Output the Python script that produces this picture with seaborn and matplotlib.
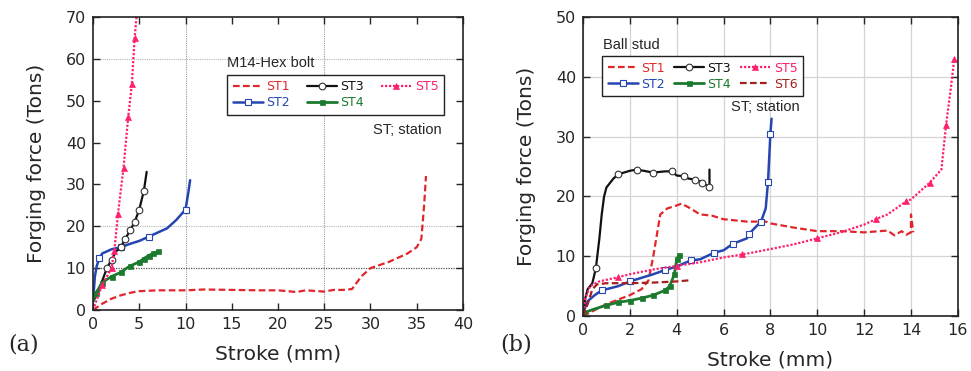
import numpy as np
import pandas as pd
import matplotlib
matplotlib.use("Agg")
import matplotlib.pyplot as plt
from matplotlib.lines import Line2D
import seaborn as sns

# ---------------- Data: panel (a) M14-Hex bolt ----------------
a_st1_x = [0, 1, 2, 3, 4, 5, 7, 10, 12, 15, 18, 20, 22, 23, 25, 26, 27, 28, 29, 30, 32, 34, 35, 35.5, 35.8, 36]
a_st1_y = [0, 1.5, 2.7, 3.5, 4.1, 4.5, 4.7, 4.7, 4.9, 4.8, 4.7, 4.7, 4.3, 4.7, 4.4, 4.8, 4.8, 5.0, 8.0, 10.0, 11.5, 13.5, 15.0, 17.0, 25.0, 32.0]
a_st2_x = [0, 0.2, 0.4, 0.7, 1, 2, 3, 4, 5, 6, 7, 8, 9, 10, 10.3, 10.5]
a_st2_y = [2, 8, 10.5, 12.5, 13.5, 14.5, 15, 15.8, 16.5, 17.5, 18.5, 19.5, 21.5, 24, 28, 31]
a_st3_x = [0, 0.5, 1, 1.5, 2, 2.5, 3, 3.5, 4, 4.5, 5, 5.5, 5.8]
a_st3_y = [2, 4, 7, 10, 12, 14, 15, 17, 19, 21, 24, 28.5, 33]
a_st4_x = [0, 0.3, 0.7, 1, 1.5, 2, 2.5, 3, 3.5, 4, 4.5, 5, 5.5, 6, 6.5, 7]
a_st4_y = [2, 4, 5.5, 6.5, 7.3, 8, 8.5, 9, 9.8, 10.5, 11, 11.5, 12.3, 13, 13.5, 14]
a_st5_x = [0, 0.5, 1, 1.5, 2, 2.3, 2.7, 3.3, 3.8, 4.2, 4.5, 4.7]
a_st5_y = [0, 3, 6, 8, 10, 14, 23, 34, 46, 54, 65, 70]

# ---------------- Data: panel (b) Ball stud ----------------
b_st1_x = [0, 0.5, 1, 2, 2.5, 2.8, 3, 3.3, 3.6, 4, 4.2, 4.5, 5, 5.5, 6, 7, 7.8, 8, 9, 10, 11, 12, 13, 13.3, 13.6, 13.8, 14, 14, 14.1]
b_st1_y = [0, 1, 2, 3.5, 4.5, 6, 10, 17, 18, 18.5, 18.8, 18.2, 17, 16.8, 16.2, 15.8, 15.8, 15.5, 14.8, 14.2, 14.2, 14.0, 14.3, 13.5, 14.2, 13.6, 14.0, 17, 14]
b_st2_x = [0, 0.2, 0.5, 0.8, 1.5, 2, 3, 3.5, 4, 4.6, 5, 5.6, 6, 6.4, 7, 7.1, 7.6, 7.8, 7.9, 8.0, 8.05]
b_st2_y = [0.5, 2.5, 3.5, 4.3, 5, 5.8, 7, 7.7, 8.3, 9.3, 9.5, 10.6, 11, 12.1, 13, 13.8, 15.8, 18, 22.5, 30.5, 33]
b_st3_x = [0, 0.1, 0.2, 0.4, 0.55, 0.7, 0.8, 0.9, 1.0, 1.3, 1.5, 2, 2.3, 3, 3.5, 3.8, 4, 4.3, 4.5, 4.8, 5, 5.1, 5.3, 5.4, 5.4, 5.4]
b_st3_y = [0.5, 3, 4.5, 5.5, 8, 13, 17, 20, 21.5, 23, 23.7, 24.3, 24.5, 24, 24.2, 24.2, 23.5, 23.4, 23, 22.8, 22.5, 22.3, 21.8, 21.6, 22.5, 24.5]
b_st4_x = [0, 0.5, 1, 1.5, 2, 2.5, 3, 3.5, 3.7, 3.9, 4.0, 4.1]
b_st4_y = [0.5, 1.2, 1.8, 2.3, 2.6, 3.0, 3.5, 4.3, 5, 7, 9.5, 10.2]
b_st5_x = [0, 0.1, 0.3, 0.7, 1.5, 2, 3, 4, 5, 6, 6.8, 8, 9, 10, 11, 12, 12.5, 13, 13.8, 14, 14.8, 15.3, 15.5, 15.7, 15.85]
b_st5_y = [0, 3, 5, 5.8, 6.5, 7, 7.8, 8.4, 9, 9.8, 10.3, 11.2, 12, 13, 14, 15.3, 16.2, 17, 19.2, 19.5, 22.3, 24.5, 32, 38, 43]
b_st6_x = [0, 0.2, 0.4, 0.6, 1, 2, 3, 4, 4.6]
b_st6_y = [0, 2, 4.5, 5.3, 5.5, 5.5, 5.6, 5.8, 6]

labels_a = ["ST1", "ST2", "ST3", "ST4", "ST5"]
labels_b = ["ST1", "ST2", "ST3", "ST4", "ST5", "ST6"]

# ---------------- Styles ----------------
C_RED = "#e0262b"
C_BLUE = "#2546b0"
C_BLACK = "#111111"
C_GREEN = "#1b7a2e"
C_PINK = "#ff1f6e"
C_DRED = "#a3201c"

styles = {
    "ST1": dict(color=C_RED, linestyle=(0, (3, 1.5)), linewidth=1.6, marker="None"),
    "ST2": dict(color=C_BLUE, linestyle="-", linewidth=1.8, marker="s", markersize=4,
                markerfacecolor="white", markeredgecolor=C_BLUE, markeredgewidth=0.8),
    "ST3": dict(color=C_BLACK, linestyle="-", linewidth=1.6, marker="o", markersize=4.8,
                markerfacecolor="white", markeredgecolor="#333333", markeredgewidth=0.8),
    "ST4": dict(color=C_GREEN, linestyle="-", linewidth=2.0, marker="s", markersize=3.6,
                markerfacecolor=C_GREEN, markeredgecolor=C_GREEN, markeredgewidth=0.5),
    "ST5": dict(color=C_PINK, linestyle=(0, (1, 0.8)), linewidth=1.6, marker="^", markersize=4.2,
                markerfacecolor=C_PINK, markeredgecolor=C_PINK, markeredgewidth=0.5),
    "ST6": dict(color=C_DRED, linestyle=(0, (3, 1.5)), linewidth=1.6, marker="None"),
}

sns.set_style("ticks")
plt.rcParams["font.family"] = ["DejaVu Sans"]

fig = plt.figure(figsize=(9.71, 3.71), dpi=100)
ax1 = fig.add_axes([0.0958, 0.1644, 0.381, 0.790])
ax2 = fig.add_axes([0.6004, 0.148, 0.386, 0.806])


def draw(ax, x, y, name, markevery=None):
    st = styles[name]
    df = pd.DataFrame({"x": x, "y": y})
    n_before = len(ax.lines)
    sns.lineplot(data=df, x="x", y="y", ax=ax, sort=False, estimator=None,
                 color=st["color"], legend=False)
    line = ax.lines[n_before]
    line.set(**st)
    if markevery is not None:
        line.set_markevery(markevery)


def proxies(names):
    return [Line2D([], [], **styles[n]) for n in names]


# panel (a)
draw(ax1, a_st1_x, a_st1_y, "ST1")
draw(ax1, a_st2_x, a_st2_y, "ST2", markevery=[3, 6, 9, 13])
draw(ax1, a_st3_x, a_st3_y, "ST3", markevery=[3, 4, 6, 7, 8, 9, 10, 11])
draw(ax1, a_st4_x, a_st4_y, "ST4", markevery=[1, 3, 5, 7, 9, 11, 12, 13, 14, 15])
draw(ax1, a_st5_x, a_st5_y, "ST5", markevery=[2, 4, 5, 6, 7, 8, 9, 10])

# panel (b)
draw(ax2, b_st1_x, b_st1_y, "ST1")
draw(ax2, b_st2_x, b_st2_y, "ST2", markevery=[3, 5, 7, 9, 11, 13, 15, 16, 18, 19])
draw(ax2, b_st3_x, b_st3_y, "ST3", markevery=[4, 10, 12, 13, 15, 17, 19, 21, 23])
draw(ax2, b_st4_x, b_st4_y, "ST4", markevery=[0, 2, 3, 4, 5, 6, 7, 8, 9, 10, 11])
draw(ax2, b_st5_x, b_st5_y, "ST5", markevery=[4, 7, 10, 13, 16, 18, 20, 22, 24])
draw(ax2, b_st6_x, b_st6_y, "ST6")

# axes formatting
for ax in (ax1, ax2):
    ax.set_xlabel("Stroke (mm)", fontsize=14.5, labelpad=9)
    ax.set_ylabel("Forging force (Tons)", fontsize=14.5, labelpad=14)
    ax.tick_params(direction="in", top=True, right=True, length=5, width=1, labelsize=11.5,
                   pad=5)
    for sp in ax.spines.values():
        sp.set_visible(True)
        sp.set_linewidth(1.2)
        sp.set_color("#222222")

ax1.set_xlim(0, 40)
ax1.set_ylim(0, 70)
ax1.set_xticks(np.arange(0, 41, 5))
ax1.set_yticks(np.arange(0, 71, 10))
for xv in (10, 25):
    ax1.axvline(xv, color="#9a9a9a", linestyle=(0, (1, 1)), linewidth=0.8, zorder=0)
ax1.axhline(10, color="#555555", linestyle=(0, (1, 1)), linewidth=0.9, zorder=0)
for yv in (20, 60):
    ax1.axhline(yv, color="#b5b5b5", linestyle=(0, (1, 1)), linewidth=0.8, zorder=0)

ax2.set_xlim(0, 16)
ax2.set_ylim(0, 50)
ax2.set_xticks(np.arange(0, 17, 2))
ax2.set_yticks(np.arange(0, 51, 10))
ax2.grid(True, color="#d4d4d4", linewidth=0.9)
ax2.set_axisbelow(True)

# legends
lprop = {"family": "DejaVu Sans", "size": 9}
leg1 = ax1.legend(proxies(labels_a), labels_a, ncol=3, loc="upper left",
                  bbox_to_anchor=(0.362, 0.803), prop=lprop, frameon=True,
                  fancybox=False, edgecolor="#222222", framealpha=1,
                  labelcolor="linecolor", handlelength=2.4, handletextpad=0.3,
                  columnspacing=1.35, borderpad=0.45, labelspacing=0.25, borderaxespad=0)
leg1.get_frame().set_linewidth(1.0)

leg2 = ax2.legend(proxies(labels_b), labels_b, ncol=3, loc="upper left",
                  bbox_to_anchor=(0.051, 0.870), prop=lprop, frameon=True,
                  fancybox=False, edgecolor="#222222", framealpha=1,
                  labelcolor="linecolor", handlelength=2.4, handletextpad=0.3,
                  columnspacing=0.7, borderpad=0.45, labelspacing=0.25, borderaxespad=0)
leg2.get_frame().set_linewidth(1.0)

# annotations
tfont = {"family": "Liberation Sans", "size": 10.5}
ax1.text(14.5, 59, "M14-Hex bolt", va="center", ha="left", fontdict=tfont)
ax1.text(30.3, 43, "ST; station", va="center", ha="left", fontdict=tfont)
ax2.text(0.85, 45.3, "Ball stud", va="center", ha="left", fontdict=tfont)
ax2.text(6.3, 34.9, "ST; station", va="center", ha="left", fontdict=tfont)

fig.text(0.008, 0.055, "(a)", fontsize=16, family="DejaVu Serif", ha="left")
fig.text(0.515, 0.055, "(b)", fontsize=16, family="DejaVu Serif", ha="left")

fig.savefig("out.png", dpi=100)
